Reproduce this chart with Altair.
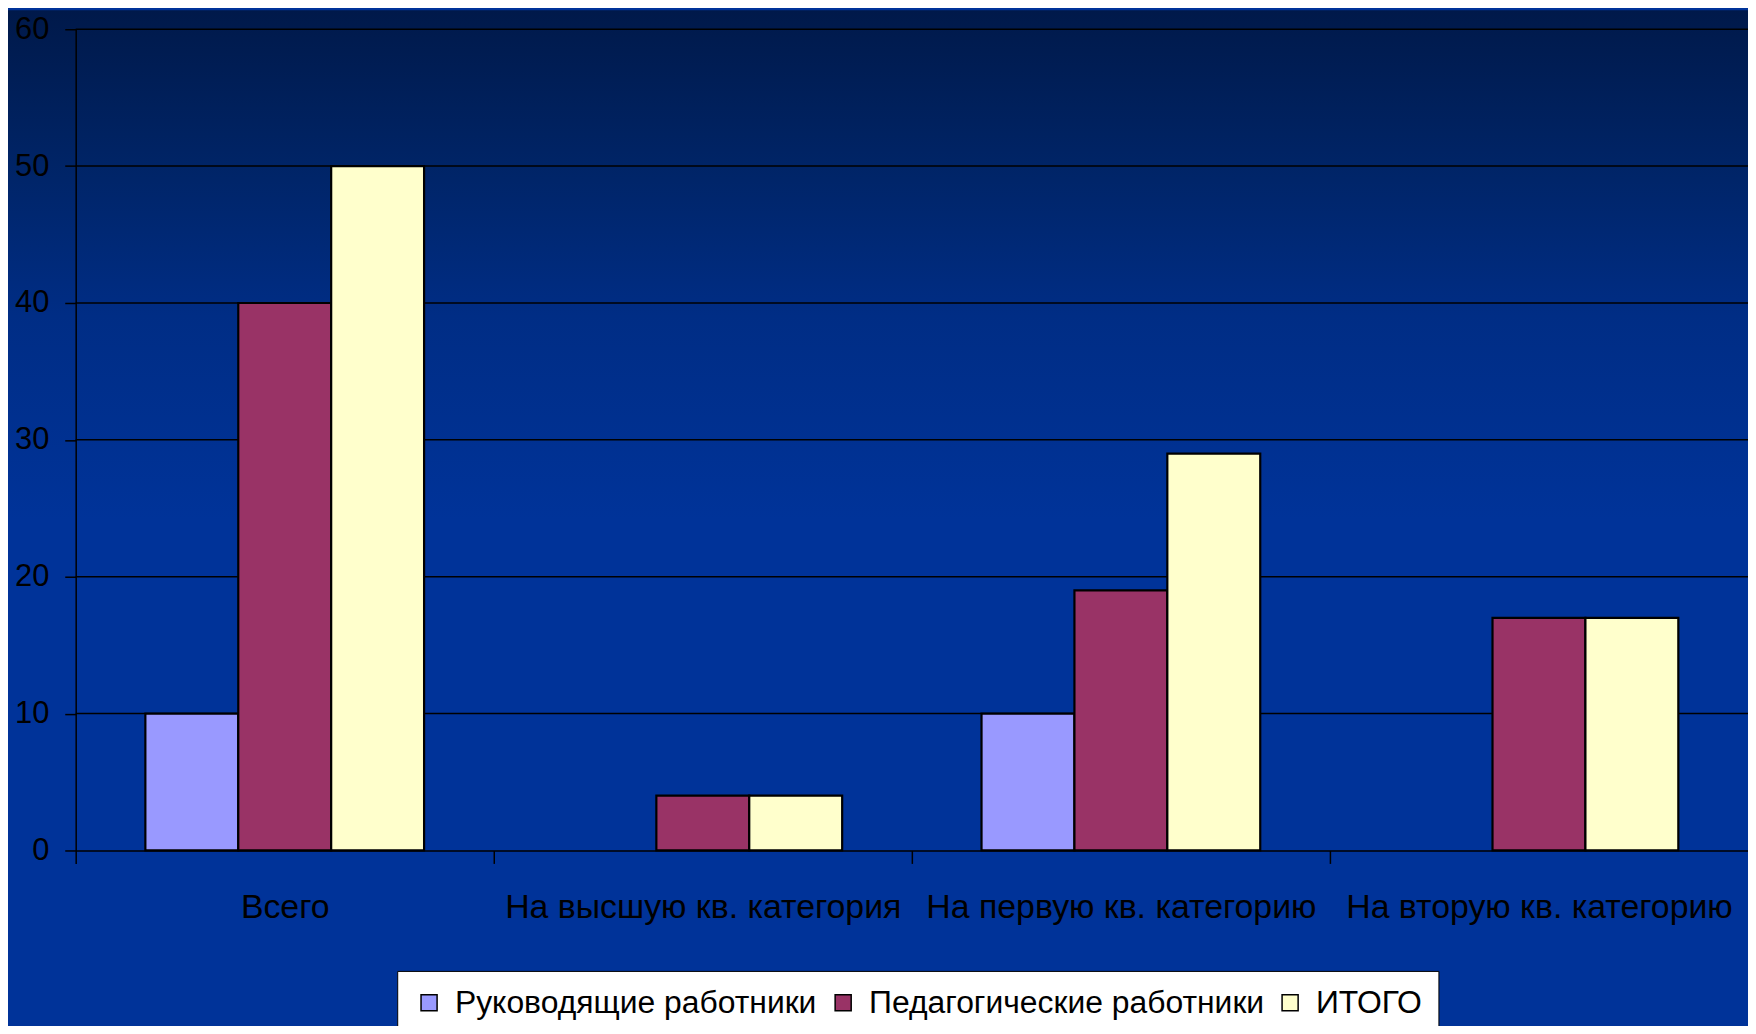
import altair as alt
import pandas as pd

categories = ["Всего", "На высшую кв. категория", "На первую кв. категорию", "На вторую кв. категорию"]
series = ["Руководящие работники", "Педагогические работники", "ИТОГО"]
rukovod = [10, 0, 10, 0]
pedagog = [40, 4, 19, 17]
itogo = [50, 4, 29, 17]
y_ticks = [0, 10, 20, 30, 40, 50, 60]
grid_vals = [10, 20, 30, 40, 50, 60]
colors = ["#9999FF", "#993366", "#FFFFCC"]

rows = []
for s, vals in zip(series, [rukovod, pedagog, itogo]):
    for c, v in zip(categories, vals):
        if v > 0:
            rows.append({"cat": c, "ser": s, "val": v})
df = pd.DataFrame(rows)
grid_df = pd.DataFrame({"val": grid_vals})

W, H = 1680, 825
FONT = "Liberation Sans"
yscale = alt.Scale(domain=[0, 60], nice=False, zero=True)
yaxis = alt.Axis(
    title=None, values=y_ticks, grid=False, domain=True, domainColor="black",
    domainWidth=1.5, ticks=True, tickColor="black", tickWidth=1.5, tickSize=11,
    labelFont=FONT, labelFontSize=31, labelColor="black", labelPadding=16, zindex=1,
)

bg = alt.Chart(alt.Data(values=[{"a": 1}])).mark_rect(
    fill=alt.Gradient(
        gradient="linear", x1=0, y1=0, x2=0, y2=1,
        stops=[
            alt.GradientStop(color="#00194a", offset=0),
            alt.GradientStop(color="#002466", offset=0.15),
            alt.GradientStop(color="#002d85", offset=0.3),
            alt.GradientStop(color="#003399", offset=0.5),
            alt.GradientStop(color="#003399", offset=1),
        ],
    ),
    strokeWidth=0,
).encode(x=alt.value(-80), x2=alt.value(W + 20), y=alt.value(-19), y2=alt.value(H + 180))

grid = alt.Chart(grid_df).mark_rule(color="black", strokeWidth=1.5).encode(
    y=alt.Y("val:Q", scale=yscale, axis=yaxis),
    x=alt.value(0),
    x2=alt.value(W),
)

step = W / len(categories)

bars = alt.Chart(df).mark_bar(stroke="black", strokeWidth=2.2, opacity=1).encode(
    x=alt.X(
        "cat:N",
        sort=categories,
        scale=alt.Scale(domain=categories, paddingInner=0, paddingOuter=0),
        axis=alt.Axis(
            title=None, grid=False, domain=True, domainColor="black", domainWidth=1.5,
            ticks=True, tickColor="black", tickWidth=1.5, tickSize=13,
            tickOffset=-step / 2, labelOffset=step / 2,
            labelFont=FONT, labelFontSize=34, labelColor="black", labelPadding=27,
            labelLimit=1000, labelOverlap=False, labelAngle=0, zindex=1,
        ),
    ),
    xOffset=alt.XOffset(
        "ser:N",
        sort=series,
        scale=alt.Scale(domain=series, paddingInner=0, paddingOuter=0.75),
    ),
    y=alt.Y("val:Q", scale=yscale, axis=yaxis),
    color=alt.Color(
        "ser:N",
        sort=series,
        scale=alt.Scale(domain=series, range=colors),
        legend=alt.Legend(
            title=None, orient="none", legendX=323, legendY=946, direction="horizontal",
            fillColor="white", strokeColor="black", padding=16,
            labelFont=FONT, labelFontSize=32, labelColor="black", labelLimit=1000,
            symbolType="square", symbolSize=260, symbolStrokeColor="black",
            symbolStrokeWidth=1.5, symbolOpacity=1, labelOffset=10, columnPadding=10,
        ),
    ),
)

chart = alt.layer(bg, grid, bars).properties(
    width=W, height=H,
    autosize=alt.AutoSizeParams(type="none"),
    padding={"left": 68, "top": 19, "right": 0, "bottom": 174},
    background="#003399",
).configure_view(stroke=None)

chart.save("out.html", embed_options={"renderer": "svg", "actions": False})
